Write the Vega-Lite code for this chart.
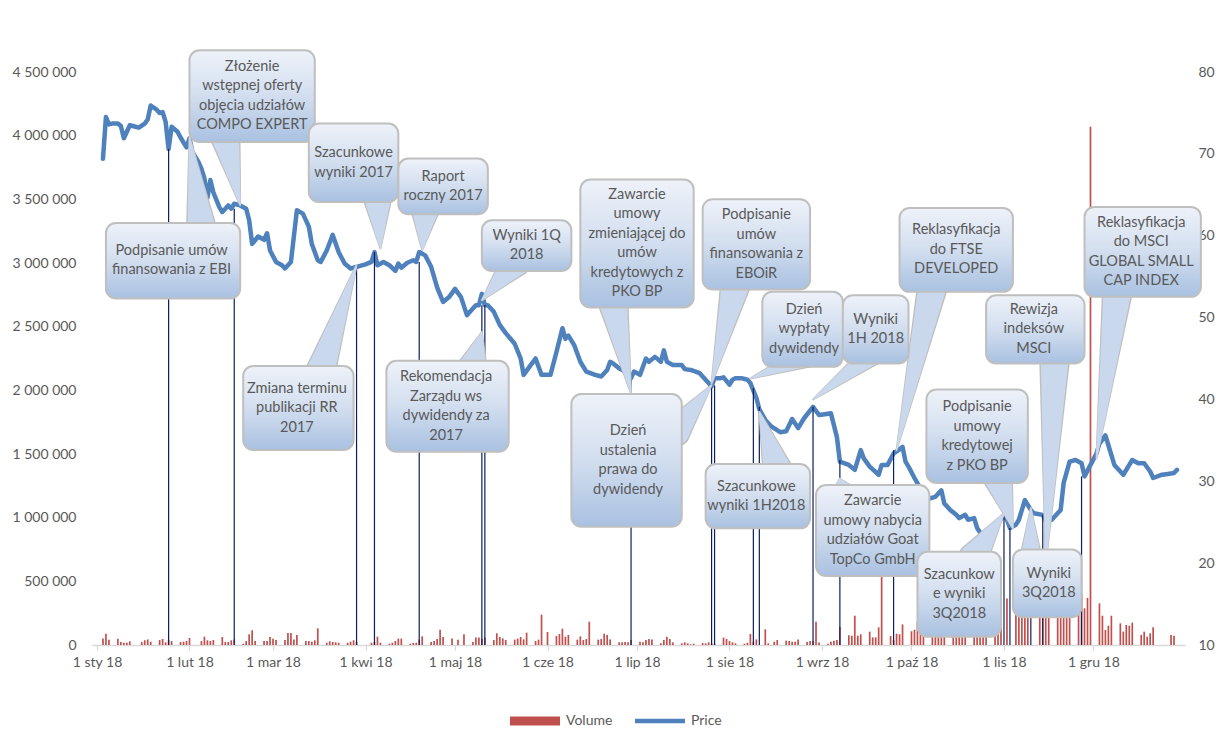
{
  "$schema": "https://vega.github.io/schema/vega-lite/v6.json",
  "width": 1093,
  "height": 573,
  "autosize": {"type": "none"},
  "padding": {"left": 92, "top": 72, "right": 34, "bottom": 106},
  "background": "white",
  "config": {"view": {"stroke": null}, "font": "Lato"},
  "datasets": {
    "volume": [
      {"date":"2018-01-03","volume":52000},{"date":"2018-01-04","volume":89000},{"date":"2018-01-05","volume":42000},
      {"date":"2018-01-08","volume":50000},{"date":"2018-01-09","volume":24000},{"date":"2018-01-10","volume":18000},{"date":"2018-01-11","volume":18000},{"date":"2018-01-12","volume":29000},
      {"date":"2018-01-16","volume":24000},{"date":"2018-01-17","volume":37000},{"date":"2018-01-18","volume":44000},{"date":"2018-01-19","volume":26000},
      {"date":"2018-01-22","volume":39000},{"date":"2018-01-23","volume":47000},{"date":"2018-01-24","volume":21000},{"date":"2018-01-25","volume":42000},{"date":"2018-01-26","volume":31000},
      {"date":"2018-01-29","volume":24000},{"date":"2018-01-30","volume":26000},{"date":"2018-01-31","volume":31000},{"date":"2018-02-01","volume":55000},
      {"date":"2018-02-05","volume":31000},{"date":"2018-02-06","volume":65000},{"date":"2018-02-07","volume":37000},{"date":"2018-02-08","volume":31000},{"date":"2018-02-09","volume":39000},
      {"date":"2018-02-12","volume":63000},{"date":"2018-02-13","volume":24000},{"date":"2018-02-14","volume":24000},{"date":"2018-02-15","volume":37000},{"date":"2018-02-16","volume":44000},
      {"date":"2018-02-19","volume":10000},{"date":"2018-02-20","volume":31000},{"date":"2018-02-21","volume":84000},{"date":"2018-02-22","volume":115000},{"date":"2018-02-23","volume":31000},
      {"date":"2018-02-26","volume":31000},{"date":"2018-02-27","volume":31000},{"date":"2018-02-28","volume":63000},{"date":"2018-03-01","volume":50000},{"date":"2018-03-02","volume":39000},
      {"date":"2018-03-05","volume":39000},{"date":"2018-03-06","volume":94000},{"date":"2018-03-07","volume":94000},{"date":"2018-03-08","volume":44000},{"date":"2018-03-09","volume":79000},
      {"date":"2018-03-12","volume":31000},{"date":"2018-03-13","volume":31000},{"date":"2018-03-14","volume":26000},{"date":"2018-03-15","volume":37000},{"date":"2018-03-16","volume":131000},
      {"date":"2018-03-19","volume":18000},{"date":"2018-03-20","volume":29000},{"date":"2018-03-21","volume":24000},{"date":"2018-03-22","volume":21000},{"date":"2018-03-23","volume":18000},
      {"date":"2018-03-26","volume":18000},{"date":"2018-03-27","volume":26000},{"date":"2018-03-28","volume":37000},{"date":"2018-03-29","volume":24000},
      {"date":"2018-04-03","volume":18000},{"date":"2018-04-04","volume":24000},{"date":"2018-04-05","volume":65000},{"date":"2018-04-06","volume":18000},
      {"date":"2018-04-09","volume":10000},{"date":"2018-04-10","volume":18000},{"date":"2018-04-11","volume":31000},{"date":"2018-04-12","volume":50000},{"date":"2018-04-13","volume":50000},
      {"date":"2018-04-16","volume":10000},{"date":"2018-04-17","volume":16000},{"date":"2018-04-18","volume":18000},{"date":"2018-04-19","volume":42000},{"date":"2018-04-20","volume":68000},
      {"date":"2018-04-23","volume":24000},{"date":"2018-04-24","volume":31000},{"date":"2018-04-25","volume":47000},{"date":"2018-04-26","volume":120000},{"date":"2018-04-27","volume":63000},
      {"date":"2018-04-30","volume":52000},{"date":"2018-05-02","volume":42000},{"date":"2018-05-04","volume":84000},
      {"date":"2018-05-07","volume":24000},{"date":"2018-05-08","volume":58000},{"date":"2018-05-09","volume":58000},{"date":"2018-05-10","volume":50000},{"date":"2018-05-11","volume":58000},
      {"date":"2018-05-14","volume":39000},{"date":"2018-05-15","volume":92000},{"date":"2018-05-16","volume":63000},{"date":"2018-05-17","volume":52000},{"date":"2018-05-18","volume":39000},
      {"date":"2018-05-21","volume":42000},{"date":"2018-05-22","volume":50000},{"date":"2018-05-23","volume":63000},{"date":"2018-05-24","volume":44000},{"date":"2018-05-25","volume":97000},
      {"date":"2018-05-28","volume":31000},{"date":"2018-05-29","volume":42000},{"date":"2018-05-30","volume":238000},{"date":"2018-06-01","volume":102000},
      {"date":"2018-06-04","volume":71000},{"date":"2018-06-05","volume":86000},{"date":"2018-06-06","volume":128000},{"date":"2018-06-07","volume":65000},{"date":"2018-06-08","volume":79000},
      {"date":"2018-06-11","volume":42000},{"date":"2018-06-12","volume":68000},{"date":"2018-06-13","volume":39000},{"date":"2018-06-14","volume":47000},{"date":"2018-06-15","volume":183000},
      {"date":"2018-06-18","volume":42000},{"date":"2018-06-19","volume":47000},{"date":"2018-06-20","volume":89000},{"date":"2018-06-21","volume":79000},{"date":"2018-06-22","volume":44000},
      {"date":"2018-06-25","volume":21000},{"date":"2018-06-26","volume":21000},{"date":"2018-06-27","volume":24000},{"date":"2018-06-28","volume":21000},{"date":"2018-06-29","volume":39000},
      {"date":"2018-07-02","volume":26000},{"date":"2018-07-03","volume":21000},{"date":"2018-07-04","volume":39000},{"date":"2018-07-05","volume":47000},{"date":"2018-07-06","volume":44000},
      {"date":"2018-07-09","volume":13000},{"date":"2018-07-10","volume":39000},{"date":"2018-07-11","volume":65000},{"date":"2018-07-12","volume":47000},{"date":"2018-07-13","volume":21000},
      {"date":"2018-07-16","volume":13000},{"date":"2018-07-17","volume":21000},{"date":"2018-07-18","volume":13000},{"date":"2018-07-19","volume":5000},{"date":"2018-07-20","volume":10000},
      {"date":"2018-07-23","volume":16000},{"date":"2018-07-24","volume":13000},{"date":"2018-07-25","volume":21000},{"date":"2018-07-26","volume":13000},{"date":"2018-07-27","volume":10000},
      {"date":"2018-07-30","volume":58000},{"date":"2018-07-31","volume":47000},{"date":"2018-08-01","volume":31000},{"date":"2018-08-02","volume":21000},{"date":"2018-08-03","volume":13000},
      {"date":"2018-08-06","volume":10000},{"date":"2018-08-07","volume":18000},{"date":"2018-08-08","volume":86000},{"date":"2018-08-09","volume":26000},{"date":"2018-08-10","volume":44000},
      {"date":"2018-08-13","volume":123000},{"date":"2018-08-14","volume":13000},{"date":"2018-08-16","volume":26000},{"date":"2018-08-17","volume":39000},
      {"date":"2018-08-20","volume":34000},{"date":"2018-08-21","volume":31000},{"date":"2018-08-22","volume":26000},{"date":"2018-08-23","volume":26000},{"date":"2018-08-24","volume":44000},
      {"date":"2018-08-27","volume":24000},{"date":"2018-08-28","volume":31000},{"date":"2018-08-29","volume":31000},{"date":"2018-08-30","volume":183000},{"date":"2018-08-31","volume":20000},
      {"date":"2018-09-03","volume":10000},{"date":"2018-09-04","volume":26000},{"date":"2018-09-05","volume":34000},{"date":"2018-09-06","volume":39000},{"date":"2018-09-07","volume":141000},
      {"date":"2018-09-10","volume":76000},{"date":"2018-09-11","volume":73000},{"date":"2018-09-12","volume":230000},{"date":"2018-09-13","volume":73000},{"date":"2018-09-14","volume":84000},
      {"date":"2018-09-17","volume":105000},{"date":"2018-09-18","volume":60000},{"date":"2018-09-19","volume":60000},{"date":"2018-09-20","volume":139000},{"date":"2018-09-21","volume":800000},
      {"date":"2018-09-24","volume":71000},{"date":"2018-09-25","volume":39000},{"date":"2018-09-26","volume":89000},{"date":"2018-09-27","volume":84000},{"date":"2018-09-28","volume":162000},
      {"date":"2018-10-01","volume":108000},{"date":"2018-10-02","volume":120000},{"date":"2018-10-03","volume":183000},{"date":"2018-10-04","volume":127000},{"date":"2018-10-05","volume":146000},
      {"date":"2018-10-08","volume":118000},{"date":"2018-10-09","volume":118000},{"date":"2018-10-10","volume":105000},{"date":"2018-10-11","volume":131000},{"date":"2018-10-12","volume":178000},
      {"date":"2018-10-15","volume":131000},{"date":"2018-10-16","volume":136000},{"date":"2018-10-17","volume":144000},{"date":"2018-10-18","volume":118000},{"date":"2018-10-19","volume":154000},
      {"date":"2018-10-22","volume":131000},{"date":"2018-10-23","volume":196000},{"date":"2018-10-24","volume":196000},{"date":"2018-10-25","volume":183000},{"date":"2018-10-26","volume":209000},
      {"date":"2018-10-29","volume":144000},{"date":"2018-10-30","volume":353000},{"date":"2018-10-31","volume":330000},{"date":"2018-11-02","volume":366000},
      {"date":"2018-11-05","volume":275000},{"date":"2018-11-06","volume":296000},{"date":"2018-11-07","volume":288000},{"date":"2018-11-08","volume":296000},{"date":"2018-11-09","volume":275000},
      {"date":"2018-11-13","volume":262000},{"date":"2018-11-14","volume":222000},{"date":"2018-11-15","volume":249000},{"date":"2018-11-16","volume":262000},
      {"date":"2018-11-19","volume":262000},{"date":"2018-11-20","volume":275000},{"date":"2018-11-21","volume":275000},{"date":"2018-11-22","volume":275000},{"date":"2018-11-23","volume":288000},
      {"date":"2018-11-26","volume":476000},{"date":"2018-11-27","volume":403000},{"date":"2018-11-28","volume":288000},{"date":"2018-11-29","volume":370000},{"date":"2018-11-30","volume":4070000},
      {"date":"2018-12-03","volume":327000},{"date":"2018-12-04","volume":230000},{"date":"2018-12-05","volume":118000},{"date":"2018-12-06","volume":152000},{"date":"2018-12-07","volume":230000},
      {"date":"2018-12-10","volume":170000},{"date":"2018-12-11","volume":105000},{"date":"2018-12-12","volume":157000},{"date":"2018-12-13","volume":152000},{"date":"2018-12-14","volume":175000},
      {"date":"2018-12-17","volume":79000},{"date":"2018-12-18","volume":105000},{"date":"2018-12-19","volume":65000},{"date":"2018-12-20","volume":92000},{"date":"2018-12-21","volume":139000},
      {"date":"2018-12-27","volume":79000},{"date":"2018-12-28","volume":73000}
    ],
    "price": [
      {"date":"2018-01-03","price":69.4},{"date":"2018-01-04","price":74.5},{"date":"2018-01-05","price":73.6},{"date":"2018-01-06","price":73.7},
      {"date":"2018-01-08","price":73.7},{"date":"2018-01-09","price":73.4},{"date":"2018-01-10","price":71.9},{"date":"2018-01-12","price":73.5},
      {"date":"2018-01-13","price":73.4},{"date":"2018-01-15","price":73.2},{"date":"2018-01-17","price":73.7},{"date":"2018-01-18","price":74.2},
      {"date":"2018-01-19","price":75.9},{"date":"2018-01-21","price":75.4},{"date":"2018-01-22","price":75.0},{"date":"2018-01-23","price":75.1},
      {"date":"2018-01-24","price":73.9},{"date":"2018-01-25","price":70.6},{"date":"2018-01-26","price":73.3},{"date":"2018-01-28","price":72.7},
      {"date":"2018-01-29","price":72.0},{"date":"2018-01-31","price":70.8},{"date":"2018-02-01","price":71.9},{"date":"2018-02-02","price":70.2},
      {"date":"2018-02-04","price":69.0},{"date":"2018-02-05","price":68.2},{"date":"2018-02-06","price":67.0},{"date":"2018-02-07","price":64.6},
      {"date":"2018-02-08","price":66.8},{"date":"2018-02-09","price":65.3},{"date":"2018-02-11","price":63.5},{"date":"2018-02-12","price":62.9},
      {"date":"2018-02-14","price":63.7},{"date":"2018-02-15","price":63.3},{"date":"2018-02-16","price":63.9},{"date":"2018-02-18","price":63.7},
      {"date":"2018-02-20","price":63.3},{"date":"2018-02-21","price":61.9},{"date":"2018-02-22","price":59.0},{"date":"2018-02-24","price":59.9},
      {"date":"2018-02-26","price":59.5},{"date":"2018-02-27","price":60.3},{"date":"2018-02-28","price":58.2},{"date":"2018-03-02","price":56.8},
      {"date":"2018-03-04","price":56.4},{"date":"2018-03-05","price":56.0},{"date":"2018-03-07","price":56.8},{"date":"2018-03-09","price":63.1},
      {"date":"2018-03-11","price":62.7},{"date":"2018-03-12","price":61.9},{"date":"2018-03-13","price":61.1},{"date":"2018-03-14","price":59.0},
      {"date":"2018-03-16","price":57.0},{"date":"2018-03-17","price":56.8},{"date":"2018-03-19","price":58.2},{"date":"2018-03-21","price":60.1},
      {"date":"2018-03-23","price":58.0},{"date":"2018-03-25","price":56.6},{"date":"2018-03-27","price":56.0},{"date":"2018-03-29","price":56.2},
      {"date":"2018-04-01","price":56.5},{"date":"2018-04-03","price":56.8},{"date":"2018-04-04","price":58.0},{"date":"2018-04-05","price":56.4},
      {"date":"2018-04-07","price":56.8},{"date":"2018-04-09","price":56.4},{"date":"2018-04-11","price":55.7},{"date":"2018-04-12","price":56.6},
      {"date":"2018-04-13","price":56.1},{"date":"2018-04-15","price":56.7},{"date":"2018-04-17","price":57.0},{"date":"2018-04-18","price":56.8},
      {"date":"2018-04-19","price":58.0},{"date":"2018-04-21","price":57.6},{"date":"2018-04-23","price":56.2},{"date":"2018-04-25","price":53.7},
      {"date":"2018-04-27","price":51.9},{"date":"2018-04-29","price":52.5},{"date":"2018-05-01","price":53.5},{"date":"2018-05-03","price":52.5},
      {"date":"2018-05-05","price":50.3},{"date":"2018-05-06","price":50.7},{"date":"2018-05-08","price":51.5},{"date":"2018-05-09","price":51.5},
      {"date":"2018-05-10","price":52.9},{"date":"2018-05-11","price":51.5},{"date":"2018-05-12","price":51.5},{"date":"2018-05-14","price":50.7},
      {"date":"2018-05-16","price":49.1},{"date":"2018-05-18","price":48.1},{"date":"2018-05-21","price":46.8},{"date":"2018-05-23","price":45.0},
      {"date":"2018-05-24","price":43.0},{"date":"2018-05-26","price":44.0},{"date":"2018-05-28","price":45.0},{"date":"2018-05-30","price":43.0},
      {"date":"2018-06-02","price":43.0},{"date":"2018-06-04","price":45.8},{"date":"2018-06-06","price":48.7},{"date":"2018-06-07","price":47.4},
      {"date":"2018-06-08","price":47.8},{"date":"2018-06-10","price":46.6},{"date":"2018-06-12","price":44.6},{"date":"2018-06-14","price":43.4},
      {"date":"2018-06-17","price":43.0},{"date":"2018-06-19","price":42.8},{"date":"2018-06-21","price":43.6},{"date":"2018-06-22","price":44.6},
      {"date":"2018-06-23","price":44.4},{"date":"2018-06-25","price":43.8},{"date":"2018-06-27","price":43.4},{"date":"2018-06-29","price":42.6},
      {"date":"2018-06-30","price":43.4},{"date":"2018-07-02","price":43.0},{"date":"2018-07-04","price":45.0},{"date":"2018-07-05","price":44.6},
      {"date":"2018-07-07","price":45.2},{"date":"2018-07-09","price":44.6},{"date":"2018-07-10","price":46.0},{"date":"2018-07-11","price":44.6},
      {"date":"2018-07-13","price":44.2},{"date":"2018-07-16","price":44.2},{"date":"2018-07-17","price":43.7},{"date":"2018-07-19","price":43.6},
      {"date":"2018-07-22","price":43.2},{"date":"2018-07-24","price":42.4},{"date":"2018-07-26","price":41.6},{"date":"2018-07-27","price":42.6},
      {"date":"2018-07-29","price":42.6},{"date":"2018-07-30","price":42.7},{"date":"2018-08-01","price":41.8},{"date":"2018-08-02","price":42.4},
      {"date":"2018-08-03","price":42.6},{"date":"2018-08-05","price":42.6},{"date":"2018-08-07","price":42.4},{"date":"2018-08-08","price":42.0},
      {"date":"2018-08-10","price":40.2},{"date":"2018-08-11","price":38.8},{"date":"2018-08-13","price":37.5},{"date":"2018-08-15","price":36.7},
      {"date":"2018-08-18","price":36.0},{"date":"2018-08-20","price":36.1},{"date":"2018-08-22","price":37.6},{"date":"2018-08-24","price":36.5},
      {"date":"2018-08-26","price":37.7},{"date":"2018-08-29","price":39.1},{"date":"2018-08-31","price":38.1},{"date":"2018-09-02","price":38.2},
      {"date":"2018-09-04","price":38.3},{"date":"2018-09-06","price":35.4},{"date":"2018-09-07","price":32.4},{"date":"2018-09-10","price":32.0},
      {"date":"2018-09-12","price":31.4},{"date":"2018-09-14","price":33.8},{"date":"2018-09-15","price":32.8},{"date":"2018-09-17","price":31.8},
      {"date":"2018-09-20","price":30.8},{"date":"2018-09-21","price":32.0},{"date":"2018-09-23","price":32.0},{"date":"2018-09-25","price":33.4},
      {"date":"2018-09-27","price":33.9},{"date":"2018-09-28","price":34.2},{"date":"2018-09-29","price":32.4},{"date":"2018-09-30","price":31.8},
      {"date":"2018-10-02","price":30.4},{"date":"2018-10-04","price":29.1},{"date":"2018-10-05","price":28.5},{"date":"2018-10-07","price":27.9},
      {"date":"2018-10-09","price":28.1},{"date":"2018-10-11","price":28.9},{"date":"2018-10-12","price":27.3},{"date":"2018-10-14","price":26.5},
      {"date":"2018-10-16","price":25.9},{"date":"2018-10-17","price":25.5},{"date":"2018-10-19","price":25.9},{"date":"2018-10-20","price":25.3},
      {"date":"2018-10-22","price":25.5},{"date":"2018-10-23","price":24.3},{"date":"2018-10-25","price":23.2},{"date":"2018-10-26","price":23.4},
      {"date":"2018-10-28","price":24.0},{"date":"2018-10-30","price":24.9},{"date":"2018-11-01","price":25.9},{"date":"2018-11-02","price":25.3},
      {"date":"2018-11-03","price":24.3},{"date":"2018-11-05","price":24.7},{"date":"2018-11-06","price":25.3},{"date":"2018-11-08","price":27.7},
      {"date":"2018-11-10","price":26.5},{"date":"2018-11-11","price":26.1},{"date":"2018-11-14","price":25.9},{"date":"2018-11-15","price":25.1},
      {"date":"2018-11-17","price":25.3},{"date":"2018-11-20","price":26.5},{"date":"2018-11-21","price":29.8},{"date":"2018-11-23","price":32.4},
      {"date":"2018-11-25","price":32.6},{"date":"2018-11-27","price":32.2},{"date":"2018-11-28","price":30.6},{"date":"2018-11-30","price":32.0},
      {"date":"2018-12-02","price":33.4},{"date":"2018-12-03","price":34.6},{"date":"2018-12-05","price":35.6},{"date":"2018-12-06","price":34.4},
      {"date":"2018-12-08","price":32.0},{"date":"2018-12-10","price":31.2},{"date":"2018-12-11","price":30.8},{"date":"2018-12-13","price":32.0},
      {"date":"2018-12-14","price":32.6},{"date":"2018-12-16","price":32.2},{"date":"2018-12-18","price":32.2},{"date":"2018-12-20","price":31.2},
      {"date":"2018-12-21","price":30.4},{"date":"2018-12-24","price":30.8},{"date":"2018-12-26","price":30.9},{"date":"2018-12-28","price":31.0},
      {"date":"2018-12-29","price":31.4}
    ],
    "events": [
      {"date":"2018-01-25","price":70.6},{"date":"2018-02-16","price":63.3},{"date":"2018-03-29","price":56.3},{"date":"2018-04-04","price":58.0},
      {"date":"2018-04-19","price":56.8},{"date":"2018-05-10","price":51.5},{"date":"2018-05-11","price":51.5},{"date":"2018-06-29","price":42.4},
      {"date":"2018-07-26","price":41.7},{"date":"2018-07-27","price":41.7},{"date":"2018-08-09","price":41.4},{"date":"2018-08-11","price":39.1},
      {"date":"2018-08-29","price":39.1},{"date":"2018-09-07","price":32.6},{"date":"2018-09-25","price":33.8},{"date":"2018-11-01","price":25.9},
      {"date":"2018-11-03","price":24.3},{"date":"2018-11-10","price":26.1},{"date":"2018-11-14","price":25.9},{"date":"2018-11-27","price":30.6}
    ],
    "pointers": [
      {"id":"P1","date":"2018-02-05","price":60.92,"t":1},{"id":"P1","date":"2018-02-01","price":72.06,"t":0},
      {"id":"P2","date":"2018-02-13","price":72.06,"t":1},{"id":"P2","date":"2018-02-18","price":63.72,"t":0},
      {"id":"P3","date":"2018-04-05","price":64.74,"t":1},{"id":"P3","date":"2018-04-06","price":58.44,"t":0},
      {"id":"P4","date":"2018-04-21","price":63.24,"t":1},{"id":"P4","date":"2018-04-20","price":58.23,"t":0},
      {"id":"P5","date":"2018-05-21","price":56.67,"t":1},{"id":"P5","date":"2018-05-10","price":52.12,"t":0},
      {"id":"P6","date":"2018-05-07","price":44.10,"t":1},{"id":"P6","date":"2018-05-10","price":48.25,"t":0},
      {"id":"P7","date":"2018-06-23","price":51.84,"t":1},{"id":"P7","date":"2018-06-29","price":40.73,"t":0},
      {"id":"P8","date":"2018-07-14","price":36.13,"t":1},{"id":"P8","date":"2018-07-26","price":41.75,"t":0},
      {"id":"P9","date":"2018-08-03","price":54.04,"t":1},{"id":"P9","date":"2018-07-26","price":41.95,"t":0},
      {"id":"P10","date":"2018-09-03","price":46.25,"t":1},{"id":"P10","date":"2018-08-08","price":42.56,"t":0},
      {"id":"P11","date":"2018-09-25","price":47.48,"t":1},{"id":"P11","date":"2018-08-29","price":40.0,"t":0},
      {"id":"P12","date":"2018-08-17","price":31.49,"t":1},{"id":"P12","date":"2018-08-11","price":38.49,"t":0},
      {"id":"P13","date":"2018-09-08","price":28.68,"t":1},{"id":"P13","date":"2018-09-07","price":30.35,"t":0},
      {"id":"P14","date":"2018-10-08","price":53.75,"t":1},{"id":"P14","date":"2018-09-26","price":33.81,"t":0},
      {"id":"P15","date":"2018-10-30","price":30.39,"t":1},{"id":"P15","date":"2018-11-04","price":24.25,"t":0},
      {"id":"P16","date":"2018-10-22","price":20.78,"t":1},{"id":"P16","date":"2018-11-01","price":26.08,"t":0},
      {"id":"P17","date":"2018-11-10","price":18.55,"t":1},{"id":"P17","date":"2018-11-10","price":26.73,"t":0},
      {"id":"P18","date":"2018-11-18","price":45.0,"t":1},{"id":"P18","date":"2018-11-15","price":19.97,"t":0},
      {"id":"P19","date":"2018-12-09","price":53.14,"t":1},{"id":"P19","date":"2018-12-02","price":32.80,"t":0},
      {"id":"P20","date":"2018-03-17","price":43.46,"t":1},{"id":"P20","date":"2018-03-29","price":56.40,"t":0}
    ],
    "boxes": [
      {"label":"Podpisanie umów\nfinansowania z EBI","x1":"2018-01-04","x2":"2018-02-18","top":61.56,"bottom":52.33,"tx":"2018-01-26","ty":58.14},
      {"label":"Złożenie\nwstępnej oferty\nobjęcia udziałów\nCOMPO EXPERT","x1":"2018-02-01","x2":"2018-03-15","top":82.65,"bottom":71.45,"tx":"2018-02-22","ty":80.62},
      {"label":"Szacunkowe\nwyniki 2017","x1":"2018-03-13","x2":"2018-04-12","top":73.70,"bottom":64.13,"tx":"2018-03-28","ty":70.10},
      {"label":"Raport\nroczny 2017","x1":"2018-04-12","x2":"2018-05-12","top":69.43,"bottom":62.62,"tx":"2018-04-27","ty":67.21},
      {"label":"Wyniki 1Q\n2018","x1":"2018-05-10","x2":"2018-06-09","top":61.89,"bottom":55.70,"tx":"2018-05-25","ty":59.98},
      {"label":"Rekomendacja\nZarządu ws\ndywidendy za\n2017","x1":"2018-04-08","x2":"2018-05-19","top":44.71,"bottom":33.60,"tx":"2018-04-28","ty":42.73},
      {"label":"Zawarcie\numowy\nzmieniającej do\numów\nkredytowych z\nPKO BP","x1":"2018-06-12","x2":"2018-07-20","top":66.86,"bottom":51.23,"tx":"2018-07-01","ty":65.0},
      {"label":"Dzień\nustalenia\nprawa do\ndywidendy","x1":"2018-06-09","x2":"2018-07-16","top":40.65,"bottom":24.44,"tx":"2018-06-28","ty":36.11},
      {"label":"Podpisanie\numów\nfinansowania z\nEBOiR","x1":"2018-07-23","x2":"2018-08-28","top":64.46,"bottom":53.43,"tx":"2018-08-10","ty":62.51},
      {"label":"Dzień\nwypłaty\ndywidendy","x1":"2018-08-12","x2":"2018-09-08","top":53.14,"bottom":43.98,"tx":"2018-08-26","ty":50.94},
      {"label":"Wyniki\n1H 2018","x1":"2018-09-08","x2":"2018-09-30","top":52.73,"bottom":44.40,"tx":"2018-09-19","ty":49.75},
      {"label":"Szacunkowe\nwyniki 1H2018","x1":"2018-07-24","x2":"2018-08-28","top":32.10,"bottom":24.25,"tx":"2018-08-10","ty":29.36},
      {"label":"Zawarcie\numowy nabycia\nudziałów Goat\nTopCo GmbH","x1":"2018-08-30","x2":"2018-10-07","top":29.54,"bottom":18.42,"tx":"2018-09-18","ty":27.55},
      {"label":"Reklasyfikacja\ndo FTSE\nDEVELOPED","x1":"2018-09-27","x2":"2018-11-04","top":63.39,"bottom":53.14,"tx":"2018-10-16","ty":60.65},
      {"label":"Podpisanie\numowy\nkredytowej\nz PKO BP","x1":"2018-10-06","x2":"2018-11-09","top":41.22,"bottom":29.78,"tx":"2018-10-23","ty":39.07},
      {"label":"Szacunkow\ne wyniki\n3Q2018","x1":"2018-10-03","x2":"2018-10-31","top":21.39,"bottom":11.01,"tx":"2018-10-17","ty":18.58},
      {"label":"Wyniki\n3Q2018","x1":"2018-11-04","x2":"2018-11-27","top":21.68,"bottom":13.38,"tx":"2018-11-16","ty":18.72},
      {"label":"Rewizja\nindeksów\nMSCI","x1":"2018-10-26","x2":"2018-11-28","top":52.73,"bottom":44.40,"tx":"2018-11-11","ty":50.94},
      {"label":"Reklasyfikacja\ndo MSCI\nGLOBAL SMALL\nCAP INDEX","x1":"2018-11-28","x2":"2019-01-06","top":63.52,"bottom":52.53,"tx":"2018-12-17","ty":61.59},
      {"label":"Zmiana terminu\npublikacji RR\n2017","x1":"2018-02-19","x2":"2018-03-28","top":44.07,"bottom":33.81,"tx":"2018-03-09","ty":41.32}
    ]
  },
  "layer": [
    {
      "data": {"name": "volume"},
      "mark": {"type": "bar", "size": 1.7},
      "encoding": {
        "x": {
          "field": "date", "type": "temporal",
          "scale": {"type": "utc", "domain": [{"year": 2018, "month": 1, "date": 1, "utc": true}, {"year": 2018, "month": 12, "date": 30, "utc": true}]},
          "axis": {
            "orient": "bottom", "title": null, "grid": false, "labelFlush": false, "labelOverlap": false,
            "tickCount": {"interval": "month", "step": 1},
            "labelExpr": "utcFormat(datum.value, '%-d') + ' ' + (utcmonth(datum.value) == 0 ? 'sty' : utcmonth(datum.value) == 1 ? 'lut' : utcmonth(datum.value) == 2 ? 'mar' : utcmonth(datum.value) == 3 ? 'kwi' : utcmonth(datum.value) == 4 ? 'maj' : utcmonth(datum.value) == 5 ? 'cze' : utcmonth(datum.value) == 6 ? 'lip' : utcmonth(datum.value) == 7 ? 'sie' : utcmonth(datum.value) == 8 ? 'wrz' : utcmonth(datum.value) == 9 ? 'paź' : utcmonth(datum.value) == 10 ? 'lis' : 'gru') + ' 18'",
            "domainColor": "#d9d9d9", "domainWidth": 1.3, "tickColor": "#d9d9d9", "tickSize": 5, "tickWidth": 1.3,
            "labelFont": "Lato", "labelFontSize": 14, "labelColor": "#595959", "labelPadding": 5
          }
        },
        "y": {
          "field": "volume", "type": "quantitative",
          "scale": {"domain": [0, 4500000], "nice": false, "zero": true},
          "axis": {
            "orient": "left", "title": null, "grid": false, "ticks": false, "tickSize": 0, "domain": false,
            "values": [0, 500000, 1000000, 1500000, 2000000, 2500000, 3000000, 3500000, 4000000, 4500000],
            "labelExpr": "replace(format(datum.value, ','), /,/g, ' ')",
            "labelFont": "Lato", "labelFontSize": 14, "labelColor": "#595959", "labelPadding": 16
          }
        },
        "color": {
          "datum": "Volume",
          "scale": {"domain": ["Volume", "Price"], "range": ["#c0504d", "#4f81bd"]},
          "legend": {
            "orient": "none", "legendX": 418, "legendY": 624, "direction": "horizontal", "title": null,
            "symbolType": "M-1,-0.18H1V0.18H-1Z", "symbolSize": 2500, "padding": 0,
            "labelFont": "Lato", "labelFontSize": 14, "labelColor": "#595959", "labelOffset": 6, "columnPadding": 22,
            "encode": {"symbols": {"update": {
              "shape": {"signal": "datum.value === 'Volume' ? 'M-1,-0.18H1V0.18H-1Z' : 'M-1,-0.09H1V0.09H-1Z'"},
              "fill": {"signal": "datum.value === 'Volume' ? '#c0504d' : '#4f81bd'"},
              "stroke": {"value": "transparent"},
              "strokeWidth": {"value": 0},
              "size": {"value": 2500}
            }}}
          }
        }
      }
    },
    {
      "resolve": {"scale": {"size": "independent"}},
      "layer": [
        {
          "data": {"name": "price"},
          "mark": {"type": "line", "strokeWidth": 4.5, "strokeJoin": "round", "strokeCap": "round"},
          "encoding": {
            "x": {"field": "date", "type": "temporal"},
            "y": {
              "field": "price", "type": "quantitative",
              "scale": {"domain": [10, 80], "nice": false, "zero": false},
              "axis": {
                "orient": "right", "title": null, "grid": false, "ticks": false, "tickSize": 0, "domain": false,
                "values": [10, 20, 30, 40, 50, 60, 70, 80],
                "labelFont": "Lato", "labelFontSize": 14, "labelColor": "#595959", "labelPadding": 13
              }
            },
            "color": {
              "datum": "Price",
              "scale": {"domain": ["Volume", "Price"], "range": ["#c0504d", "#4f81bd"]}
            }
          }
        },
        {
          "data": {"name": "events"},
          "mark": {"type": "rule", "color": "#0b1f5e", "strokeWidth": 1.2},
          "encoding": {
            "x": {"field": "date", "type": "temporal"},
            "y": {"field": "price", "type": "quantitative", "scale": {"domain": [10, 80], "nice": false, "zero": false}},
            "y2": {"datum": 10}
          }
        },
        {
          "data": {"name": "pointers"},
          "mark": {"type": "trail", "color": "#bfbfbf"},
          "encoding": {
            "x": {"field": "date", "type": "temporal"},
            "y": {"field": "price", "type": "quantitative", "scale": {"domain": [10, 80], "nice": false, "zero": false}},
            "detail": {"field": "id"},
            "order": {"field": "t"},
            "size": {"field": "t", "type": "quantitative", "scale": {"domain": [0, 1], "range": [2, 31]}, "legend": null}
          }
        },
        {
          "data": {"name": "pointers"},
          "mark": {"type": "trail", "color": "#c9d8ec"},
          "encoding": {
            "x": {"field": "date", "type": "temporal"},
            "y": {"field": "price", "type": "quantitative", "scale": {"domain": [10, 80], "nice": false, "zero": false}},
            "detail": {"field": "id"},
            "order": {"field": "t"},
            "size": {"field": "t", "type": "quantitative", "scale": {"domain": [0, 1], "range": [0, 28]}, "legend": null}
          }
        },
        {
          "data": {"name": "boxes"},
          "mark": {
            "type": "rect", "cornerRadius": 10, "stroke": "#bfbfbf", "strokeWidth": 2,
            "fill": {"gradient": "linear", "x1": 0, "y1": 0, "x2": 0, "y2": 1,
              "stops": [{"offset": 0, "color": "#eef2f9"}, {"offset": 0.5, "color": "#d2deef"}, {"offset": 1, "color": "#a9c1e1"}]}
          },
          "encoding": {
            "x": {"field": "x1", "type": "temporal"},
            "x2": {"field": "x2"},
            "y": {"field": "top", "type": "quantitative", "scale": {"domain": [10, 80], "nice": false, "zero": false}},
            "y2": {"field": "bottom"}
          }
        },
        {
          "data": {"name": "boxes"},
          "mark": {"type": "text", "font": "Lato", "fontSize": 14.5, "lineHeight": 19.5, "color": "#595959", "align": "center", "baseline": "middle", "lineBreak": "\n"},
          "encoding": {
            "x": {"field": "tx", "type": "temporal"},
            "y": {"field": "ty", "type": "quantitative", "scale": {"domain": [10, 80], "nice": false, "zero": false}},
            "text": {"field": "label"}
          }
        }
      ]
    }
  ],
  "resolve": {"scale": {"y": "independent"}}
}
